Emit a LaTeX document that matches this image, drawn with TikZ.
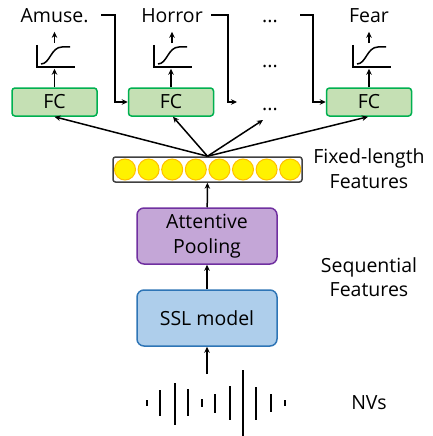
\documentclass[tikz,border=0pt]{standalone}
\usepackage{fontspec}
\setmainfont{Open Sans}
\usetikzlibrary{arrows.meta,positioning}

\definecolor{fcfill}{HTML}{C5E0B4}
\definecolor{fcline}{HTML}{00B050}
\definecolor{poolfill}{HTML}{C4A6D7}
\definecolor{poolline}{HTML}{7030A0}
\definecolor{sslfill}{HTML}{AECEEB}
\definecolor{sslline}{HTML}{2E75B6}
\definecolor{ballline}{HTML}{FFC000}

\begin{document}
\begin{tikzpicture}[x=1pt, y=-1pt, line width=1.5pt, >={Stealth[length=6pt,width=5.5pt]},
  txt/.style = {font=\fontsize{19.5}{24.5}\selectfont, align=center},
  fc/.style = {txt, draw=fcline, fill=fcfill, rounded corners=3pt, line width=1.5pt, minimum width=85pt, minimum height=28pt, inner sep=0pt},
  blk/.style = {txt, rounded corners=7pt, line width=1.5pt, minimum width=140pt, minimum height=56pt},
  ball/.style = {circle, draw=ballline, fill=yellow, line width=1pt, minimum size=21pt, inner sep=0pt},
  sig/.style = {minimum width=38pt, minimum height=24pt, inner sep=0pt},
  wave/.style = {line width=2pt}]
\useasboundingbox (0,0) rectangle (432,436);

\node[txt, anchor=base] (amuse) at (54.5,22.5) {Amuse.};
\node[txt, anchor=base] (horror) at (172,22.5) {Horror};
\node[txt, anchor=base] (d1) at (270,22.5) {...};
\node[txt, anchor=base] (fear) at (369,22.5) {Fear};

\node[txt, anchor=base] (d2) at (270,67) {...};

\node[fc] (fc1) at (54.5,102) {FC};
\node[fc] (fc2) at (171,102) {FC};
\node[txt, anchor=base] (d3) at (270,110) {...};
\node[fc] (fc4) at (369,102) {FC};

\node[sig] (s1) at (56,56) {};
\node[sig] (s2) at (173,56) {};
\node[sig] (s4) at (372,56) {};
\foreach \c in {56,173,372} {
  \draw[line width=1.5pt] (\c-19,45) -- (\c-19,67) -- (\c+19,67);
  \draw[line width=1.5pt] (\c-15,64) .. controls (\c-6,64) and (\c-5,47) .. (\c+6,47) -- (\c+14,47);
}

\draw[->] (fc1) -- (fc1 |- s1.south);
\draw[->] (fc2) -- (fc2 |- s2.south);
\draw[->] (fc4) -- (fc4 |- s4.south);
\draw[->, shorten >=5pt] (amuse |- s1.north) -- (amuse);
\draw[->, shorten >=5pt] (horror |- s2.north) -- (horror);
\draw[->, shorten >=5pt] (fear |- s4.north) -- (fear);

\coordinate (e1) at (101,15);
\coordinate (e2) at (211,15);
\coordinate (e3) at (300,15);
\coordinate (m1) at (237,102);
\draw[->] (e1) -- ++(14,0) |- (fc2.west);
\draw[->] (e2) -- ++(17,0) |- (m1);
\draw[->] (e3) -- ++(13,0) |- (fc4.west);

\node[draw=black!75, rounded corners=2.5pt, line width=1.5pt, minimum width=189pt, minimum height=25pt] (vec) at (207.5,169.5) {};
\foreach \i in {0,...,7}
  \node[ball] (b\i) at (125+23.6*\i,169.5) {};

\coordinate (m2) at (263,120);
\draw[->] (vec.north) -- (fc1.south);
\draw[->] (vec.north) -- ([xshift=2pt]fc2.south);
\draw[->] (vec.north) -- (m2);
\draw[->] (vec.north) -- ([xshift=-1pt]fc4.south);

\node[txt] (fixed) at (369,168.5) {Fixed-length\\Features};

\node[blk, draw=poolline, fill=poolfill] (pool) at (207,236) {Attentive\\Pooling};
\node[txt] (seq) at (369,277) {Sequential\\Features};
\node[blk, draw=sslline, fill=sslfill] (ssl) at (207,318) {SSL model};

\draw[->] (pool) -- (vec);
\draw[->] (ssl) -- (pool);

\coordinate (w) at (207,374);
\draw[->] (w) -- (ssl);

\foreach \x/\a/\b in {147/400/406, 160/390/416, 175/383/425, 188/389/416, 202/399/407, 215/394/413, 230/386/420, 243/370/436, 256/387/420, 271/394/412, 285/400/406}
  \draw[wave] (\x,\a) -- (\x,\b);

\node[txt] (nv) at (369,403) {NVs};

\end{tikzpicture}
\end{document}
